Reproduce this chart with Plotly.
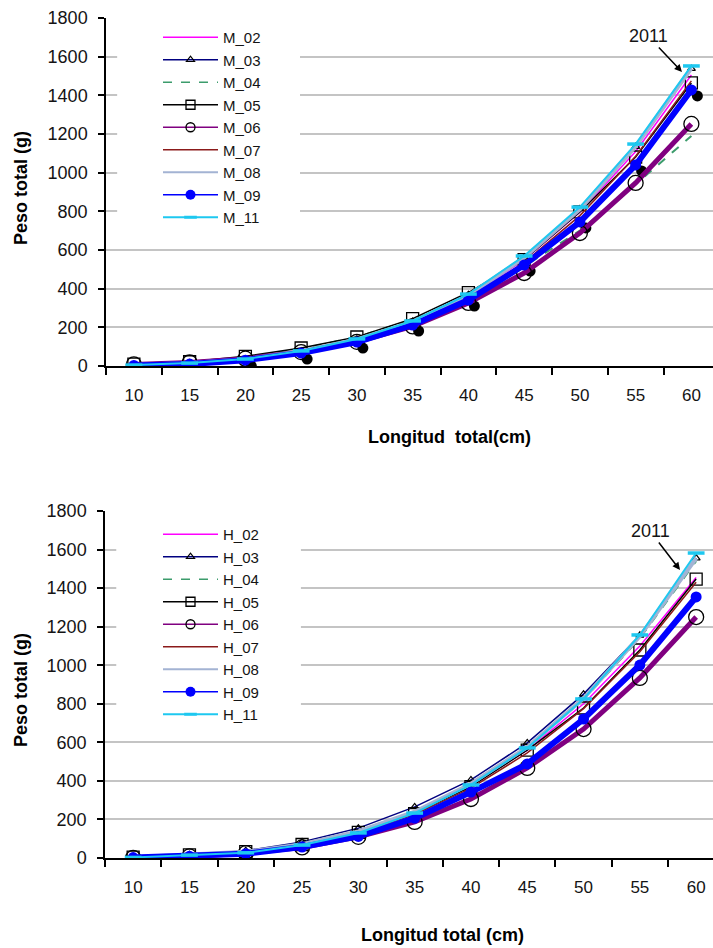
import plotly.graph_objects as go

lengths = ["10", "15", "20", "25", "30", "35", "40", "45", "50", "55", "60"]
y_ticks = [0, 200, 400, 600, 800, 1000, 1200, 1400, 1600, 1800]

# Upper chart (M series)
M_02 = [5, 14, 34, 74, 134, 224, 358, 548, 795, 1110, 1505]
M_03 = [5, 15, 35, 76, 138, 230, 368, 562, 812, 1135, 1538]
M_04 = [8, 20, 42, 88, 150, 240, 360, 515, 700, 940, 1190]
M_05 = [10, 22, 50, 93, 150, 245, 380, 550, 797, 1081, 1464]
M_06 = [8, 18, 38, 72, 125, 205, 326, 481, 688, 947, 1252]
M_07 = [5, 14, 33, 72, 130, 218, 350, 535, 778, 1085, 1475]
M_08 = [5, 15, 35, 76, 137, 228, 365, 560, 810, 1135, 1540]
M_09 = [3, 10, 30, 67, 124, 212, 341, 522, 745, 1040, 1428]
M_11 = [5, 15, 36, 78, 140, 233, 372, 569, 822, 1148, 1552]

# Lower chart (H series)
H_02 = [4, 15, 31, 70, 135, 235, 375, 560, 800, 1100, 1455]
H_03 = [4, 17, 38, 83, 155, 265, 405, 597, 850, 1155, 1556]
H_04 = [4, 15, 32, 72, 137, 238, 382, 572, 822, 1140, 1540]
H_05 = [5, 16, 33, 70, 133, 230, 370, 560, 778, 1079, 1447]
H_06 = [1, 8, 25, 55, 110, 187, 306, 467, 669, 934, 1250]
H_07 = [4, 14, 30, 66, 128, 225, 362, 545, 775, 1070, 1430]
H_08 = [4, 16, 32, 72, 138, 240, 385, 575, 828, 1150, 1555]
H_09 = [2, 9, 22, 57, 112, 207, 342, 488, 721, 1001, 1354]
H_11 = [3, 15, 27, 67, 130, 233, 379, 571, 825, 1157, 1582]

top_names = ["M_02", "M_03", "M_04", "M_05", "M_06", "M_07", "M_08", "M_09", "M_11"]
top_vals = [M_02, M_03, M_04, M_05, M_06, M_07, M_08, M_09, M_11]
bot_names = ["H_02", "H_03", "H_04", "H_05", "H_06", "H_07", "H_08", "H_09", "H_11"]
bot_vals = [H_02, H_03, H_04, H_05, H_06, H_07, H_08, H_09, H_11]

styles = [
    dict(color="#ff00ff", width=1.5, dash="solid", marker=None),
    dict(color="#000080", width=1.5, dash="solid",
         marker=dict(symbol="triangle-up-open", size=7, color="#000000", line=dict(width=1.2))),
    dict(color="#3c9c6c", width=2, dash="dash", marker=None),
    dict(color="#000000", width=1.5, dash="solid",
         marker=dict(symbol="square-open", size=12, color="#000000", line=dict(width=1.3))),
    dict(color="#800080", width=5, dash="solid",
         marker=dict(symbol="circle-open", size=15, color="#000000", line=dict(width=1.3))),
    dict(color="#8b1a1a", width=1.5, dash="solid", marker=None),
    dict(color="#a3b3d3", width=4, dash="solid", marker=None),
    dict(color="#0000ff", width=6, dash="solid",
         marker=dict(symbol="circle", size=11, color="#0000ff")),
    dict(color="#1ec8f0", width=2, dash="solid",
         marker=dict(symbol="line-ew", size=12, color="#1ec8f0", line=dict(width=3.5, color="#1ec8f0"))),
]
legend_lw = [1.5, 1.5, 1.5, 1.5, 1.5, 1.5, 2, 1.5, 2]
legend_ms = [None, 7, None, 9, 9, None, None, 10, 9]

W, H = 713, 948
FONT = "Liberation Sans, Arial, sans-serif"
TXT = "#141414"

fig = go.Figure()

top_x_dom = [106 / W, 1.0]
top_y_dom = [1 - 366 / H, 1 - 18 / H]
bot_x_dom = [105 / W, 1.0]
bot_y_dom = [1 - 858 / H, 1 - 511 / H]

top_xr = [-0.5, (W - 106) / 55.75 - 0.5]
bot_xr = [-0.5, (W - 105) / 56.3 - 0.5]

# offset of the drop shadow under the M_09 markers (6 px right, 6 px down)
sh_dx = 6 / 55.75
sh_dy = 6 * 1800 / 348


def add_legend_entries(names, xa, ya, leg):
    for name, st, lw, ms in zip(names, styles, legend_lw, legend_ms):
        mode = "lines+markers" if st["marker"] else "lines"
        kw = dict(x=lengths, y=[None] * len(lengths), mode=mode, name=name, xaxis=xa, yaxis=ya,
                  line=dict(color=st["color"], width=lw, dash=st["dash"]),
                  showlegend=True, legend=leg, hoverinfo="skip")
        if st["marker"]:
            m = dict(st["marker"])
            m["size"] = ms
            if m["symbol"] == "line-ew":
                m["line"] = dict(width=3, color=st["color"])
            kw["marker"] = m
        fig.add_trace(go.Scatter(**kw))


def add_series(names, vals, xa, ya):
    for name, v, st in zip(names, vals, styles):
        mode = "lines+markers" if st["marker"] else "lines"
        kw = dict(x=lengths, y=v, mode=mode, name=name, xaxis=xa, yaxis=ya,
                  line=dict(color=st["color"], width=st["width"], dash=st["dash"]),
                  showlegend=False)
        if st["marker"]:
            kw["marker"] = st["marker"]
        fig.add_trace(go.Scatter(**kw))


add_legend_entries(top_names, "x", "y", "legend")
# shadow layer (drawn beneath the series layer)
fig.add_trace(go.Scatter(x=lengths, y=M_09, mode="markers", xaxis="x3", yaxis="y3",
                         marker=dict(symbol="circle", size=11, color="#000000"),
                         showlegend=False, hoverinfo="skip"))
add_series(top_names, top_vals, "x4", "y4")

add_legend_entries(bot_names, "x2", "y2", "legend2")
add_series(bot_names, bot_vals, "x2", "y2")

axis_common_y = dict(range=[0, 1800], tickvals=y_ticks, showgrid=True, gridcolor="#c4c4c4",
                     gridwidth=1.5, showline=True, linecolor="#000000", linewidth=1.5,
                     ticks="outside", ticklen=6, tickcolor="#000000", tickwidth=1.5,
                     tickfont=dict(family=FONT, size=18, color=TXT), zeroline=False,
                     automargin=False, fixedrange=True, ticklabelstandoff=7)
axis_common_x = dict(type="category", categoryorder="array", categoryarray=lengths,
                     showgrid=False, showline=True, linecolor="#000000", linewidth=1.5,
                     ticks="outside", ticklen=7, tickcolor="#000000", tickwidth=1.5,
                     tickson="boundaries", tickfont=dict(family=FONT, size=17, color=TXT),
                     zeroline=False, automargin=False, fixedrange=True, ticklabelstandoff=13)
hidden_x = dict(type="category", categoryorder="array", categoryarray=lengths,
                visible=False, fixedrange=True)

fig.update_layout(
    width=W, height=H,
    margin=dict(l=0, r=0, t=0, b=0),
    paper_bgcolor="white", plot_bgcolor="white",
    font=dict(family=FONT, size=17, color=TXT),
    xaxis=dict(domain=top_x_dom, anchor="y", range=top_xr, **axis_common_x),
    yaxis=dict(domain=top_y_dom, anchor="x", **axis_common_y),
    xaxis2=dict(domain=bot_x_dom, anchor="y2", range=bot_xr, **axis_common_x),
    yaxis2=dict(domain=bot_y_dom, anchor="x2", **axis_common_y),
    xaxis3=dict(overlaying="x", anchor="y3", range=[top_xr[0] - sh_dx, top_xr[1] - sh_dx], **hidden_x),
    yaxis3=dict(overlaying="y", anchor="x3", range=[sh_dy, 1800 + sh_dy], visible=False, fixedrange=True),
    xaxis4=dict(overlaying="x", anchor="y4", range=top_xr, **hidden_x),
    yaxis4=dict(overlaying="y", anchor="x4", range=[0, 1800], visible=False, fixedrange=True),
    legend=dict(x=158 / W, y=1 - 21 / H, xanchor="left", yanchor="top",
                bgcolor="white", font=dict(family=FONT, size=15, color=TXT),
                itemwidth=55, tracegroupgap=0, traceorder="normal"),
    legend2=dict(x=158 / W, y=1 - 518 / H, xanchor="left", yanchor="top",
                 bgcolor="white", font=dict(family=FONT, size=15, color=TXT),
                 itemwidth=55, tracegroupgap=0, traceorder="normal"),
    showlegend=True,
)

# white panels behind the legend area (hide gridlines there, like the original legend box)
fig.add_shape(type="rect", xref="x", yref="y", x0=-0.3, x1=2.98, y0=700, y1=1700,
              fillcolor="white", line=dict(width=0), layer="above")
fig.add_shape(type="rect", xref="x2", yref="y2", x0=-0.3, x1=2.98, y0=700, y1=1700,
              fillcolor="white", line=dict(width=0), layer="above")

# axis titles
for yc in (188, 690):
    fig.add_annotation(text="<b>Peso total (g)</b>", x=21 / W, y=1 - yc / H, xref="paper", yref="paper",
                       xanchor="center", yanchor="middle", textangle=-90, showarrow=False,
                       font=dict(family=FONT, size=18, color="#000000"))
fig.add_annotation(text="<b>Longitud\u00a0 total(cm)</b>", x=449 / W, y=1 - 437 / H, xref="paper",
                   yref="paper", xanchor="center", yanchor="middle", showarrow=False,
                   font=dict(family=FONT, size=18, color="#000000"))
fig.add_annotation(text="<b>Longitud total (cm)</b>", x=443 / W, y=1 - 935 / H, xref="paper",
                   yref="paper", xanchor="center", yanchor="middle", showarrow=False,
                   font=dict(family=FONT, size=18, color="#000000"))

# "2011" arrows
fig.add_annotation(text="2011", x=682 / W, y=1 - 72 / H, xref="paper", yref="paper",
                   ax=-34, ay=-36, showarrow=True, arrowhead=2, arrowsize=1, arrowwidth=1.5,
                   arrowcolor="#000000", font=dict(family=FONT, size=18, color=TXT))
fig.add_annotation(text="2011", x=680 / W, y=1 - 570 / H, xref="paper", yref="paper",
                   ax=-30, ay=-39, showarrow=True, arrowhead=2, arrowsize=1, arrowwidth=1.5,
                   arrowcolor="#000000", font=dict(family=FONT, size=18, color=TXT))

fig.write_html("out.html", config={"displayModeBar": False},
               post_script="document.body.style.margin='0';")
